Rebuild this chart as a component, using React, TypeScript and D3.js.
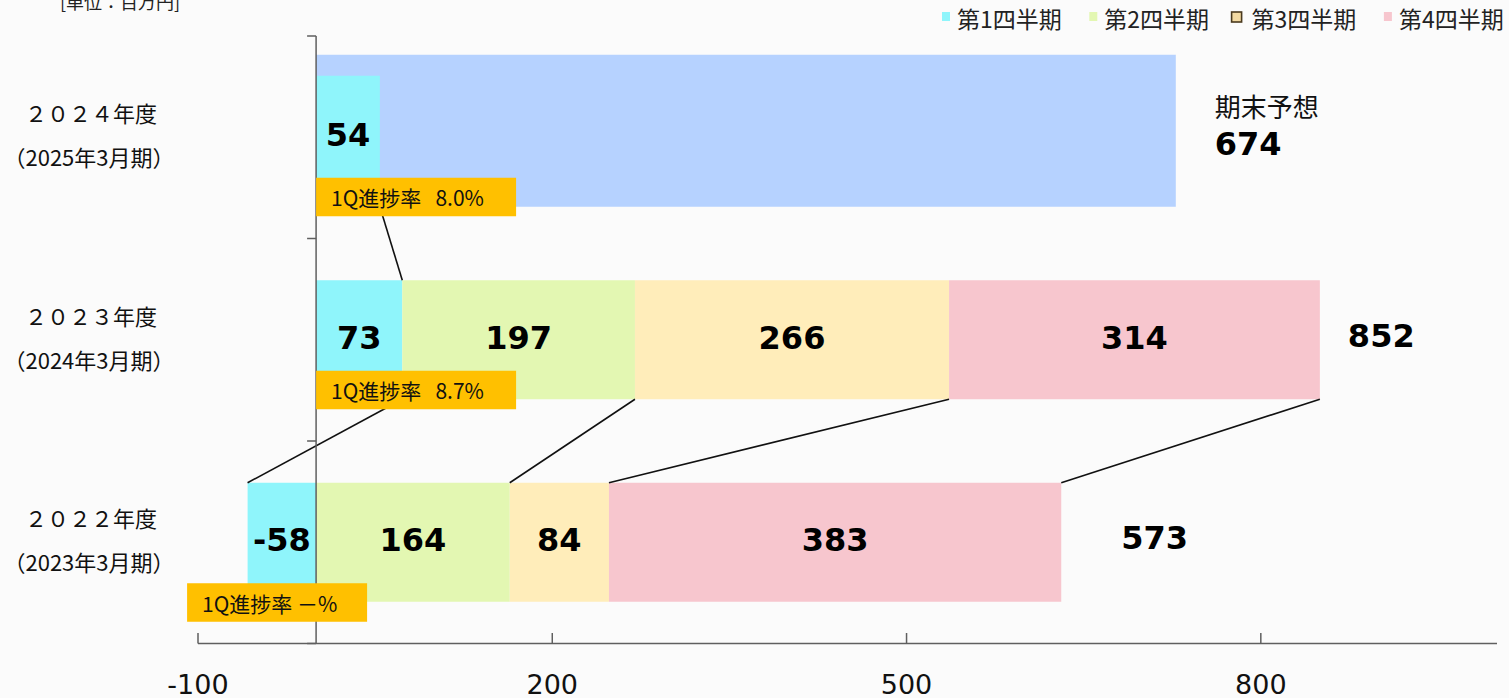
import React from 'react'
import { scaleLinear, scaleBand, stack, stackOffsetDiverging } from 'd3'

// values in 百万円, rows top to bottom
const years = ['２０２４年度', '２０２３年度', '２０２２年度']
const periods = ['（2025年3月期）', '（2024年3月期）', '（2023年3月期）']
const quarterNames = ['第1四半期', '第2四半期', '第3四半期', '第4四半期']
const q1 = [54, 73, -58]
const q2 = [null, 197, 164]
const q3 = [null, 266, 84]
const q4 = [null, 314, 383]
const totals = [null, 852, 573]
const forecastLabel = '期末予想'
const forecast = 674
const progressLabels = ['1Q進捗率\u00a0\u00a0 8.0%', '1Q進捗率\u00a0\u00a0 8.7%', '1Q進捗率 －%']
const xTicks = [-100, 200, 500, 800]
const unitLabel = '[単位：百万円]'

const colors = ['#8FF5FB', '#E3F7B2', '#FFEDBA', '#F7C6CE']
const forecastColor = '#B6D2FF'
const boxColor = '#FFC000'
const axisColor = '#5f5f5f'
const jp = "'Noto Sans CJK JP', 'Noto Sans', sans-serif"
const num = "'DejaVu Sans', Verdana, sans-serif"

const width = 1509
const height = 698
const keys = ['q1', 'q2', 'q3', 'q4']

// layout tweaks per row (px relative to band centre / bar end)
const barHalf = 59.5
const forecastTop = -82.5
const q1TopFirstRow = -61.5
const firstRowBottom = 69.5
const boxTop = [40.5, 31, 41]
const boxShift = [0, 0, -129]
const boxWidth = [200, 200, 180]
const totalGap = [0, 28, 60]

const App = () => {
  const x = scaleLinear().domain([-100, 1000]).range([198, 1497])
  const y = scaleBand().domain(years).range([36, 643.5]).padding(0)
  const cy = (i) => y(years[i]) + y.bandwidth() / 2

  const rows = years.map((yr, i) => ({
    year: yr,
    q1: q1[i] ?? 0,
    q2: q2[i] ?? 0,
    q3: q3[i] ?? 0,
    q4: q4[i] ?? 0,
  }))
  const series = stack().keys(keys).offset(stackOffsetDiverging)(rows)
  const values = [q1, q2, q3, q4]

  const barTop = (i, k) => {
    if (i === 0) return cy(i) + (k === 0 ? q1TopFirstRow : forecastTop)
    return cy(i) - barHalf
  }
  const barBottom = (i) => cy(i) + (i === 0 ? firstRowBottom : barHalf)
  const outerEdge = (d, v) => (v < 0 ? d[0] : d[1])

  // connectors between cumulative edges of neighbouring rows
  const connectors = []
  for (let i = 0; i < years.length - 1; i++) {
    keys.forEach((k, ki) => {
      const a = values[ki][i]
      const b = values[ki][i + 1]
      if (a == null || b == null) return
      connectors.push({
        x1: x(outerEdge(series[ki][i], a)),
        y1: barBottom(i),
        x2: x(outerEdge(series[ki][i + 1], b)),
        y2: cy(i + 1) - barHalf,
      })
    })
  }

  const forecastEnd = x(q1[0] + forecast)
  const bounds = [...years.map((yr) => y(yr)), y(years[years.length - 1]) + y.bandwidth()]

  return (
    <svg width={width} height={height} style={{ position: 'absolute', left: 0, top: 0 }}>
      <rect width={width} height={height} fill="#fbfbfb" />

      <text x={60} y={9} fontFamily={jp} fontSize={18} fill="#222">{unitLabel}</text>

      {/* legend */}
      {quarterNames.map((q, i) => {
        const lx = 942 + i * 147.3
        return (
          <g key={q}>
            {i === 2 ? (
              <rect x={lx - 5} y={12} width={10} height={10} fill="#F3DAA2" stroke="#4a3a1e" strokeWidth={1.6} />
            ) : (
              <rect x={lx} y={12} width={8} height={9} fill={colors[i]} />
            )}
            <text x={lx + 15} y={18} dominantBaseline="central" fontFamily={jp} fontSize={23} fill="#222">{q}</text>
          </g>
        )
      })}

      {/* forecast bar */}
      <rect x={x(0)} y={cy(0) + forecastTop} width={forecastEnd - x(0)} height={firstRowBottom - forecastTop} fill={forecastColor} />

      {/* stacked quarters */}
      {series.map((s, ki) =>
        s.map((d, i) => {
          if (values[ki][i] == null) return null
          const top = barTop(i, ki)
          return (
            <rect key={`${ki}-${i}`} x={x(d[0])} y={top} width={x(d[1]) - x(d[0])} height={barBottom(i) - top} fill={colors[ki]} />
          )
        })
      )}

      {connectors.map((c, i) => (
        <line key={i} x1={c.x1} y1={c.y1} x2={c.x2} y2={c.y2} stroke="#111" strokeWidth={1.6} />
      ))}

      {/* axes */}
      <line x1={x(0)} x2={x(0)} y1={bounds[0]} y2={bounds[bounds.length - 1]} stroke={axisColor} strokeWidth={1.5} />
      {bounds.map((b, i) => (
        <line key={i} x1={x(0) - 9} x2={x(0)} y1={b} y2={b} stroke={axisColor} strokeWidth={1.5} />
      ))}
      <line x1={x.range()[0]} x2={x.range()[1]} y1={643.5} y2={643.5} stroke={axisColor} strokeWidth={1.5} />
      {xTicks.map((t) => (
        <g key={t}>
          <line x1={x(t)} x2={x(t)} y1={633} y2={643.5} stroke={axisColor} strokeWidth={1.5} />
          <text x={x(t)} y={694} textAnchor="middle" fontFamily={num} fontSize={27} fill="#111">{t}</text>
        </g>
      ))}

      {/* category labels */}
      {years.map((yr, i) => (
        <g key={yr} fontFamily={jp} fill="#111" textAnchor="middle">
          <text x={91} y={cy(i) - 25} dominantBaseline="central" fontSize={22}>{yr}</text>
          <text x={89} y={cy(i) + 19} dominantBaseline="central" fontSize={22}>{periods[i]}</text>
        </g>
      ))}

      {/* progress boxes */}
      {progressLabels.map((p, i) => {
        const bx = x(0) + boxShift[i]
        const by = cy(i) + boxTop[i]
        return (
          <g key={p}>
            <rect x={bx} y={by} width={boxWidth[i]} height={38.5} fill={boxColor} />
            <text x={bx + 15} y={by + 19.5} dominantBaseline="central" fontFamily={jp} fontSize={21} fill="#111" style={{ whiteSpace: 'pre' }}>{p}</text>
          </g>
        )
      })}

      {/* value labels */}
      {series.map((s, ki) =>
        s.map((d, i) => {
          const v = values[ki][i]
          if (v == null) return null
          return (
            <text key={`l${ki}-${i}`} x={(x(d[0]) + x(d[1])) / 2} y={cy(i) - 2} textAnchor="middle" dominantBaseline="central" fontFamily={num} fontWeight="bold" fontSize={32} fill="#000">{v}</text>
          )
        })
      )}
      {totals.map((t, i) => {
        if (t == null) return null
        const end = x(series[3][i][1])
        return (
          <text key={`t${i}`} x={end + totalGap[i]} y={cy(i) - 4} dominantBaseline="central" fontFamily={num} fontWeight="bold" fontSize={32} fill="#000">{t}</text>
        )
      })}
      <text x={forecastEnd + 39} y={cy(0) - 32} dominantBaseline="central" fontFamily={jp} fontSize={26} fill="#111">{forecastLabel}</text>
      <text x={forecastEnd + 39} y={cy(0) + 7} dominantBaseline="central" fontFamily={num} fontWeight="bold" fontSize={32} fill="#000">{forecast}</text>
    </svg>
  )
}

export default App
